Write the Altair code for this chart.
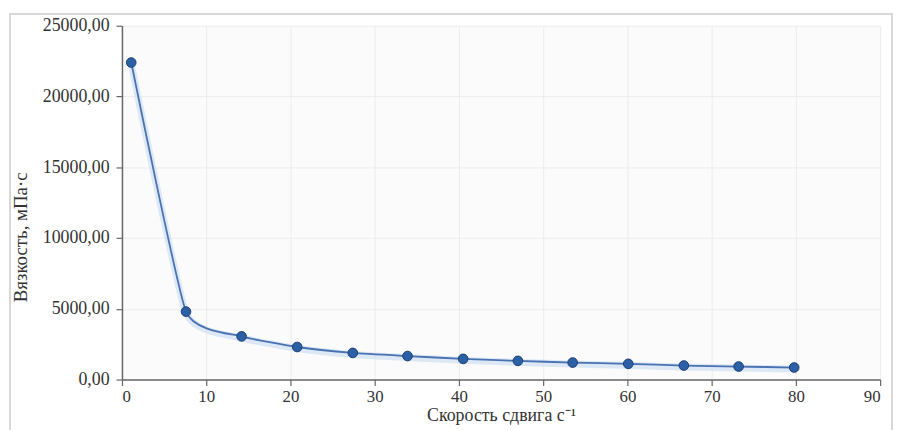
import altair as alt
import pandas as pd

shear_rate = [1.1, 7.6, 14.2, 20.8, 27.4, 33.9, 40.5, 47.0, 53.5, 60.1, 66.7, 73.2, 79.8]
viscosity = [22400, 4800, 3050, 2300, 1880, 1660, 1460, 1320, 1200, 1110, 990, 920, 850]

df = pd.DataFrame({"x": shear_rate, "y": viscosity})

font = "Liberation Serif"

xenc = alt.X("x:Q", scale=alt.Scale(domain=[0, 90], nice=False),
             axis=alt.Axis(values=list(range(0, 91, 10)), title="Скорость сдвига  с⁻¹",
                           labelPadding=3, titlePadding=2, labelFontSize=17, titleFontSize=18))
yenc = alt.Y("y:Q", scale=alt.Scale(domain=[0, 25000], nice=False),
             axis=alt.Axis(values=list(range(0, 25001, 5000)), title="Вязкость, мПа·с",
                           labelExpr="replace(format(datum.value, '.2f'), '.', ',')",
                           titlePadding=12, titleY=213))

frame = alt.Chart(df).mark_rect(fill="white", fillOpacity=0, stroke="#d8d8d8", strokeWidth=1.2, clip=False).encode(
    x=alt.value(-113), x2=alt.value(777), y=alt.value(-12), y2=alt.value(460)
)

glow = alt.Chart(df).mark_line(interpolate="cardinal", tension=0.55, color="#cfe0f3", strokeWidth=7, opacity=0.7).encode(
    x=xenc, y=yenc, yOffset=alt.value(1.5)
)
line = alt.Chart(df).mark_line(interpolate="cardinal", tension=0.55, color="#4a72b0", strokeWidth=1.8).encode(
    x=xenc, y=yenc
)
pts = alt.Chart(df).mark_circle(size=95, color="#2b5fa6", opacity=1, stroke="#1c3f73", strokeWidth=1).encode(
    x=xenc, y=yenc
)

chart = alt.layer(frame, glow, line, pts).properties(
    width=765, height=357,
    autosize=alt.AutoSizeParams(type="none"),
    padding={"left": 115, "top": 16, "right": 14, "bottom": 49},
).configure_view(stroke=None, fill="#fbfbfb").configure_axis(
    labelFont=font, titleFont=font, labelFontSize=18, titleFontSize=19,
    labelColor="#333", titleColor="#333", titleFontWeight="normal",
    domainColor="#666", domainWidth=1.5, tickColor="#666", tickSize=6, tickWidth=1.2,
    gridColor="#ececec", gridWidth=1,
).configure_axisY(labelPadding=7)

chart.save("out.html", embed_options={"renderer": "svg", "actions": False})
